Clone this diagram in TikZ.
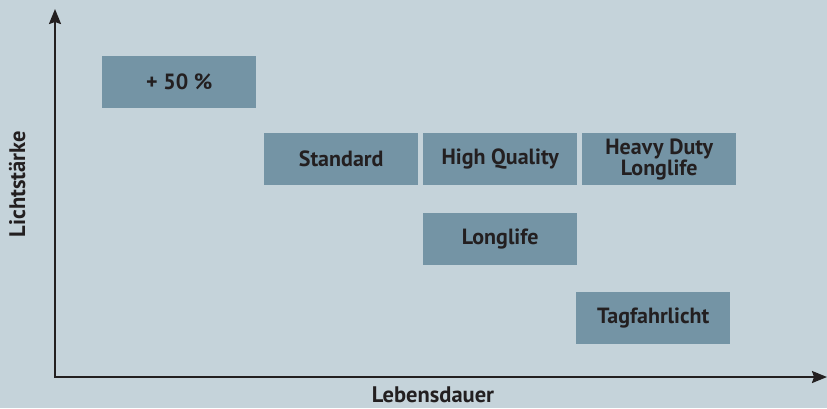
\documentclass[tikz,border=0pt]{standalone}
\usepackage{fontspec}
\setmainfont{PT Sans}
\usetikzlibrary{arrows.meta}
\definecolor{bgc}{HTML}{C5D3DA}
\definecolor{boxc}{HTML}{7494A5}
\definecolor{ink}{HTML}{231F20}
\begin{document}
\begin{tikzpicture}[x=1pt,y=-1pt,
  catbox/.style={fill=boxc,draw=none,minimum width=154pt,minimum height=52pt,
    inner sep=0pt,anchor=north west,text=ink,font=\fontsize{22}{21}\selectfont\bfseries,
    align=center},
  axis/.style={draw=ink,line width=2pt,-{Stealth[length=15pt,width=12pt,inset=2pt]}},
  axlabel/.style={text=ink,inner sep=0pt,anchor=base,font=\fontsize{22.5}{24}\selectfont\bfseries}]
\fill[bgc] (0,0) rectangle (827,408);
\useasboundingbox (0,0) rectangle (827,408);
% axes
\coordinate (o) at (55,377);
\coordinate (ytop) at (55,9);
\coordinate (xend) at (827,377);
\draw[axis] (o) -- (ytop);
\draw[axis] ([xshift=-1pt]o) -- (xend);
\node[axlabel,rotate=90] (ylab) at (25,184) {Lichtstärke};
\node[axlabel] (xlab) at (433,402) {Lebensdauer};
% categories
\node[catbox] (plus) at (102,56) {+ 50 \%};
\node[catbox] (std) at (264,133) {Standard};
\node[catbox] (hq) at (423,133) {High Quality};
\node[catbox] (hd) at (582,133) {Heavy Duty\\Longlife};
\node[catbox] (ll) at (423,213) {Longlife};
\node[catbox] (tfl) at (576,292) {Tagfahrlicht};
\end{tikzpicture}
\end{document}
